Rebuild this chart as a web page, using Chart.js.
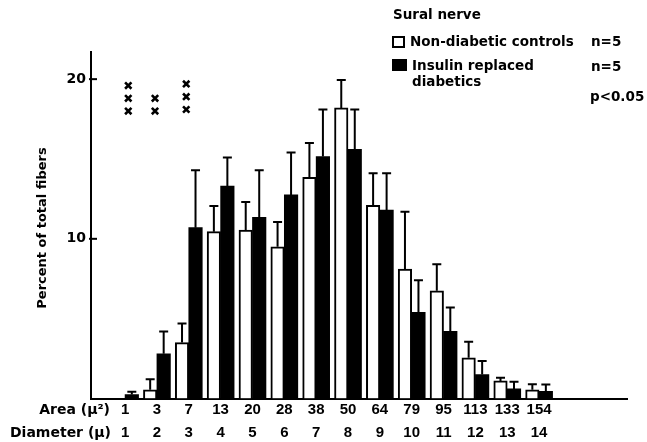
<!DOCTYPE html>
<html>
<head>
<meta charset="utf-8">
<script src="https://cdn.jsdelivr.net/npm/chart.js@4"></script>
<style>
  body { margin: 0; background: #fff; }
  #wrap { width: 647px; height: 442px; }
</style>
</head>
<body>
<div id="wrap"><canvas id="Chart"></canvas></div>
<script>
// fiber size classes (two rows of x tick labels)
var areaLabels = ['1', '3', '7', '13', '20', '28', '38', '50', '64', '79', '95', '113', '133', '154'];
var diameterLabels = ['1', '2', '3', '4', '5', '6', '7', '8', '9', '10', '11', '12', '13', '14'];
var yTicks = [10, 20];

// percent of total fibers
var controls = [0, 0.55, 3.5, 10.45, 10.55, 9.5, 13.85, 18.2, 12.1, 8.1, 6.75, 2.55, 1.1, 0.55];
var controlsSD = [0, 0.65, 1.2, 1.6, 1.75, 1.55, 2.15, 1.75, 2.0, 3.6, 1.65, 1.0, 0.2, 0.35];
var diabetics = [0.25, 2.8, 10.7, 13.3, 11.35, 12.75, 15.15, 15.6, 11.8, 5.4, 4.2, 1.5, 0.6, 0.45];
var diabeticsSD = [0.17, 1.4, 3.6, 1.8, 2.95, 2.65, 2.95, 2.5, 2.3, 2.0, 1.5, 0.85, 0.45, 0.43];

// significance marks (x) above the first three classes
var crossX = [1.1, 1.1, 1.1, 1.94, 1.94, 2.92, 2.92, 2.92];
var crossY = [19.6, 18.8, 18.0, 18.8, 18.0, 19.7, 18.9, 18.1];

var FONT = 'DejaVu Sans';

function points(vals) {
    return vals.map(function (v, i) { return { x: i + 1, y: v }; });
}

// error bars, inner y ticks and all the loose text
var extras = {
    id: 'extras',
    afterDatasetsDraw: function (chart) {
        var c = chart.ctx;
        var x = chart.scales.x, y = chart.scales.y;
        var sds = [controlsSD, diabeticsSD];
        c.save();
        c.strokeStyle = '#000';
        c.lineWidth = 2;
        [0, 1].forEach(function (d) {
            var meta = chart.getDatasetMeta(d);
            var vals = chart.data.datasets[d].data;
            meta.data.forEach(function (bar, i) {
                if (!sds[d][i]) return;
                var top = y.getPixelForValue(vals[i].y + sds[d][i]);
                c.beginPath();
                c.moveTo(bar.x, bar.y);
                c.lineTo(bar.x, top);
                c.moveTo(bar.x - 4.5, top);
                c.lineTo(bar.x + 4.5, top);
                c.stroke();
            });
        });
        // ticks pointing into the plot
        yTicks.forEach(function (t) {
            var py = y.getPixelForValue(t);
            c.beginPath();
            c.moveTo(x.left - 2, py);
            c.lineTo(x.left + 6, py);
            c.stroke();
        });
        c.restore();
    },
    afterDraw: function (chart) {
        var c = chart.ctx;
        c.save();
        c.fillStyle = '#000';
        c.textBaseline = 'middle';

        // row titles for the two tick rows
        c.font = 'bold 14px ' + FONT;
        c.textAlign = 'right';
        c.fillText('Area (\u03bc\u00b2)', 110, 410);
        c.fillText('Diameter (\u03bc)', 111, 433);

        // y title
        c.save();
        c.translate(43, 228);
        c.rotate(-Math.PI / 2);
        c.textAlign = 'center';
        c.font = 'bold 13px ' + FONT;
        c.fillText('Percent of total fibers', 0, 0);
        c.restore();

        // legend
        c.textAlign = 'left';
        c.font = 'bold 13.5px ' + FONT;
        c.fillText('Sural nerve', 393, 15);
        c.lineWidth = 2;
        c.strokeRect(393, 37, 11, 10);
        c.fillRect(392, 59, 15, 12);
        c.fillText('Non-diabetic controls', 410, 42);
        c.fillText('n=5', 591, 42);
        c.fillText('Insulin replaced', 412, 66);
        c.fillText('diabetics', 412, 82);
        c.fillText('n=5', 591, 67);
        c.fillText('p<0.05', 590, 97);
        c.restore();
    }
};

var ctx = document.getElementById('Chart').getContext('2d');
Chart.defaults.font.family = FONT;
Chart.defaults.color = '#000';

var chart = new Chart(ctx, {
    type: 'bar',
    data: {
        datasets: [{
            label: 'Non-diabetic controls',
            data: points(controls),
            backgroundColor: '#fff',
            borderColor: '#000',
            borderWidth: 2,
            barThickness: 13.5
        }, {
            label: 'Insulin replaced diabetics',
            data: points(diabetics),
            backgroundColor: '#000',
            borderColor: '#000',
            borderWidth: 0,
            barThickness: 13.5
        }, {
            type: 'scatter',
            label: 'p<0.05',
            data: crossX.map(function (v, i) { return { x: v, y: crossY[i] }; }),
            pointStyle: 'crossRot',
            radius: 4.5,
            borderWidth: 2.6,
            borderColor: '#000',
            backgroundColor: '#000'
        }]
    },
    options: {
        responsive: true,
        maintainAspectRatio: false,
        animation: false,
        devicePixelRatio: 1,
        layout: { padding: { top: 52, right: 20, left: 0, bottom: 0 } },
        plugins: {
            legend: { display: false },
            tooltip: { enabled: false }
        },
        scales: {
            x: {
                type: 'linear',
                offset: false,
                min: -0.07,
                max: 16.76,
                grid: { display: false, drawTicks: false },
                border: { display: true, color: '#000', width: 2 },
                ticks: {
                    padding: 0,
                    maxRotation: 0,
                    autoSkip: false,
                    font: { family: 'Liberation Sans', size: 15, weight: 'bold', lineHeight: 1.53 },
                    callback: function (v) {
                        var i = Math.round(v) - 1;
                        return [areaLabels[i], diameterLabels[i]];
                    }
                },
                afterBuildTicks: function (s) {
                    s.ticks = areaLabels.map(function (_, i) { return { value: i + 1 }; });
                },
                afterFit: function (s) { s.height = 43.5; }
            },
            y: {
                min: 0,
                max: 21.7,
                grid: { display: false, drawTicks: false },
                border: { display: true, color: '#000', width: 2 },
                ticks: {
                    padding: 5,
                    font: { size: 14, weight: 'bold' }
                },
                afterBuildTicks: function (s) {
                    s.ticks = yTicks.map(function (t) { return { value: t }; });
                },
                afterFit: function (s) { s.width = 91; }
            }
        }
    },
    plugins: [extras]
});
</script>
</body>
</html>
